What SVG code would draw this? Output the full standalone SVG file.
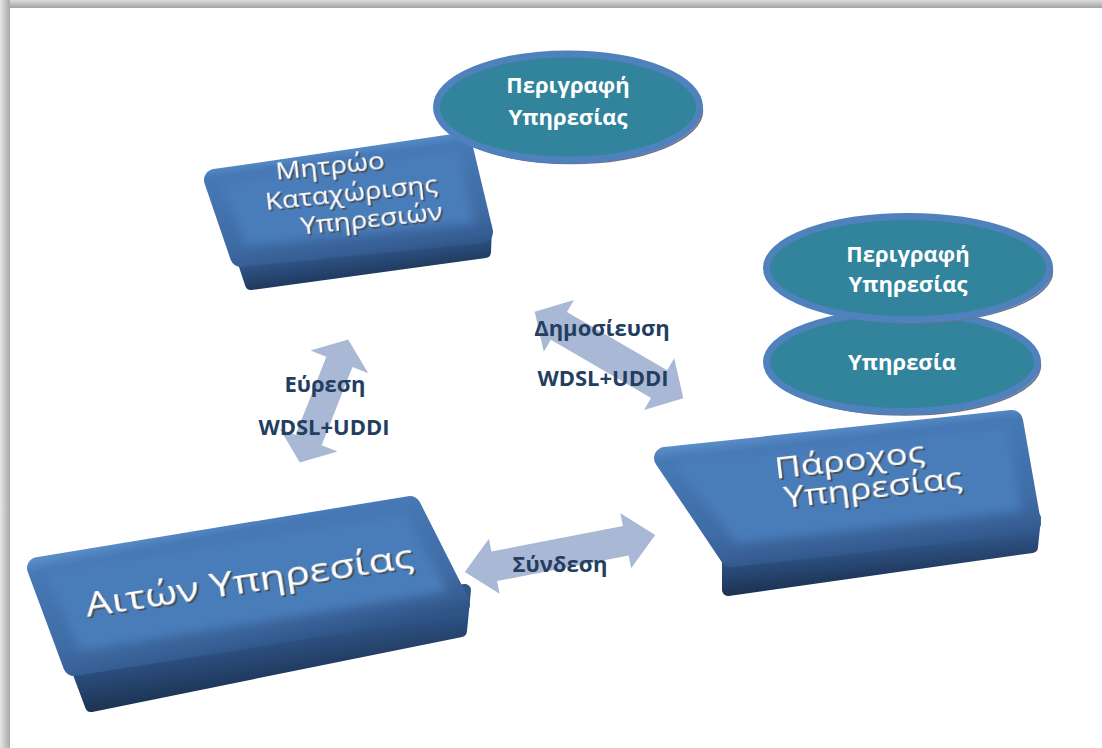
<svg xmlns="http://www.w3.org/2000/svg" width="1102" height="748" viewBox="0 0 1102 748">
  <defs>
    <style>
      .lbl{font-family:"Open Sans","Liberation Sans",sans-serif;font-weight:700;font-size:22px;fill:#233e5f;text-anchor:middle}
      .etxt{font-family:"Open Sans","Liberation Sans",sans-serif;font-weight:700;font-size:22px;fill:#ffffff;text-anchor:middle}
      .btxt{font-family:"Open Sans","Liberation Sans",sans-serif;font-weight:400;fill:#ffffff;text-anchor:middle;filter:url(#emboss)}
      .ring{fill:#31849b;stroke:#4f81bd;stroke-width:7}
      .eshadow{fill:#b4b4bc;stroke:#707088;stroke-width:1.5}
      .arrow{fill:#a9b8d4}
      .plate{fill:#4a7dba;filter:url(#soft)}
    </style>
    <!-- frame edge shading -->
    <linearGradient id="edgeTop" x1="0" y1="0" x2="0" y2="1">
      <stop offset="0" stop-color="#dcdcdc"/>
      <stop offset="1" stop-color="#a2a2a2"/>
    </linearGradient>
    <linearGradient id="edgeLeft" x1="0" y1="0" x2="1" y2="0">
      <stop offset="0" stop-color="#e6e6e6"/>
      <stop offset="1" stop-color="#a8a8a8"/>
    </linearGradient>
    <!-- slab faces (bevel base) and sides -->
    <linearGradient id="faceA" gradientUnits="userSpaceOnUse" x1="225" y1="520" x2="252" y2="652">
      <stop offset="0" stop-color="#5a8ec9"/>
      <stop offset="0.1" stop-color="#4679b5"/>
      <stop offset="0.7" stop-color="#3f6ca5"/>
      <stop offset="0.9" stop-color="#375f95"/>
      <stop offset="1" stop-color="#2e5585"/>
    </linearGradient>
    <linearGradient id="sideA" gradientUnits="userSpaceOnUse" x1="240" y1="640" x2="247" y2="690">
      <stop offset="0" stop-color="#30568a"/>
      <stop offset="1" stop-color="#1c3353"/>
    </linearGradient>
    <linearGradient id="faceB" gradientUnits="userSpaceOnUse" x1="340" y1="148" x2="356" y2="262">
      <stop offset="0" stop-color="#5a8ec9"/>
      <stop offset="0.1" stop-color="#4679b5"/>
      <stop offset="0.7" stop-color="#3f6ca5"/>
      <stop offset="0.9" stop-color="#375f95"/>
      <stop offset="1" stop-color="#2e5585"/>
    </linearGradient>
    <linearGradient id="sideB" gradientUnits="userSpaceOnUse" x1="360" y1="250" x2="364" y2="282">
      <stop offset="0" stop-color="#30568a"/>
      <stop offset="1" stop-color="#1c3353"/>
    </linearGradient>
    <linearGradient id="faceC" gradientUnits="userSpaceOnUse" x1="840" y1="426" x2="856" y2="558">
      <stop offset="0" stop-color="#5a8ec9"/>
      <stop offset="0.1" stop-color="#4679b5"/>
      <stop offset="0.7" stop-color="#3f6ca5"/>
      <stop offset="0.9" stop-color="#375f95"/>
      <stop offset="1" stop-color="#2e5585"/>
    </linearGradient>
    <linearGradient id="sideC" gradientUnits="userSpaceOnUse" x1="880" y1="545" x2="883" y2="582">
      <stop offset="0" stop-color="#30568a"/>
      <stop offset="1" stop-color="#1c3353"/>
    </linearGradient>
    <filter id="soft" x="-10%" y="-20%" width="120%" height="140%">
      <feGaussianBlur stdDeviation="5"/>
    </filter>
    <filter id="emboss" x="-10%" y="-30%" width="120%" height="160%">
      <feDropShadow dx="1.5" dy="2" stdDeviation="0.6" flood-color="#4a4a4a" flood-opacity="0.9"/>
    </filter>
  </defs>

  <!-- page -->
  <rect width="1102" height="748" fill="#ffffff"/>
  <rect x="0" y="0" width="1102" height="8" fill="url(#edgeTop)"/>
  <rect x="0" y="0" width="10" height="748" fill="url(#edgeLeft)"/>

  <!-- connectors: double-headed block arrows with their labels -->
  <g id="connectors">
    <!-- Εύρεση -->
    <polygon class="arrow" transform="translate(324,401) rotate(-68.5)"
      points="66,0 42,-31 42,-14 -42,-14 -42,-31 -66,0 -42,31 -42,14 42,14 42,31"/>
    <!-- Δημοσίευση -->
    <polygon class="arrow" transform="translate(609,355) rotate(30.2)"
      points="86,0 58,-30 58,-16 -58,-16 -58,-30 -86,0 -58,30 -58,16 58,16 58,30"/>
    <!-- Σύνδεση -->
    <polygon class="arrow" transform="translate(560,553.5) rotate(-11)"
      points="97,0 67,-28 67,-15 -67,-15 -67,-28 -97,0 -67,28 -67,15 67,15 67,28"/>
    <text class="lbl" x="325" y="392">Εύρεση</text>
    <text class="lbl" x="324" y="435">WDSL+UDDI</text>
    <text class="lbl" x="602" y="336">Δημοσίευση</text>
    <text class="lbl" x="603" y="386">WDSL+UDDI</text>
    <text class="lbl" x="560" y="572">Σύνδεση</text>
  </g>

  <!-- service registry -->
  <g id="registry">
    <polygon fill="url(#sideB)" stroke="url(#sideB)" stroke-width="12" stroke-linejoin="round"
      points="239,248 251,284 485,252 486,228"/>
    <polygon fill="url(#faceB)" stroke="url(#faceB)" stroke-width="22" stroke-linejoin="round"
      points="215,180 461,144 482,232 241,256"/>
    <polygon class="plate" points="222,184 458,150 474,222 246,245"/>
    <g transform="translate(352,200) rotate(-6)">
      <g transform="scale(1.15,1)">
        <text class="btxt" font-size="24" x="-16" y="-28">Μητρώο</text>
        <text class="btxt" font-size="24" x="0" y="1">Καταχώρισης</text>
        <text class="btxt" font-size="24" x="15" y="29">Υπηρεσιών</text>
      </g>
    </g>
  </g>

  <!-- registry description -->
  <g id="registry-description">
    <ellipse class="eshadow" cx="571" cy="110.5" rx="131.5" ry="53"/>
    <ellipse class="ring" cx="568" cy="107" rx="131.5" ry="53"/>
    <text class="etxt" x="568" y="93">Περιγραφή</text>
    <text class="etxt" x="568" y="125">Υπηρεσίας</text>
  </g>

  <!-- service requester -->
  <g id="requester">
    <polygon fill="url(#sideA)" stroke="url(#sideA)" stroke-width="12" stroke-linejoin="round"
      points="70,650 91,706 461,631 465,590"/>
    <polygon fill="url(#faceA)" stroke="url(#faceA)" stroke-width="22" stroke-linejoin="round"
      points="38,568 410,507 459,604 74,665"/>
    <polygon class="plate" points="46,572 406,514 447,591 80,650"/>
    <g transform="translate(251,592) rotate(-8.6)">
      <text class="btxt" font-size="32" transform="scale(1.3,1)" x="0" y="0">Αιτών Υπηρεσίας</text>
    </g>
  </g>

  <!-- service provider -->
  <g id="provider">
    <polygon fill="url(#sideC)" stroke="url(#sideC)" stroke-width="12" stroke-linejoin="round"
      points="728,548 728,590 1032,547 1035,518"/>
    <polygon fill="url(#faceC)" stroke="url(#faceC)" stroke-width="22" stroke-linejoin="round"
      points="665,458 1012,421 1030,523 731,556"/>
    <polygon class="plate" points="673,462 1008,427 1021,510 737,543"/>
    <g transform="translate(862,481) rotate(-6.5)">
      <g transform="scale(1.25,1)">
        <text class="btxt" font-size="29" x="-8" y="-12">Πάροχος</text>
        <text class="btxt" font-size="29" x="8" y="18">Υπηρεσίας</text>
      </g>
    </g>
  </g>

  <!-- service -->
  <g id="service">
    <ellipse class="eshadow" cx="905" cy="365.5" rx="135.5" ry="49.5"/>
    <ellipse class="ring" cx="902" cy="362" rx="135.5" ry="49.5"/>
    <text class="etxt" x="902" y="370">Υπηρεσία</text>
  </g>

  <!-- provider description -->
  <g id="provider-description">
    <ellipse class="eshadow" cx="911" cy="271.5" rx="141.5" ry="51.5"/>
    <ellipse class="ring" cx="908" cy="268" rx="141.5" ry="51.5"/>
    <text class="etxt" x="908" y="262">Περιγραφή</text>
    <text class="etxt" x="908" y="292">Υπηρεσίας</text>
  </g>
</svg>
